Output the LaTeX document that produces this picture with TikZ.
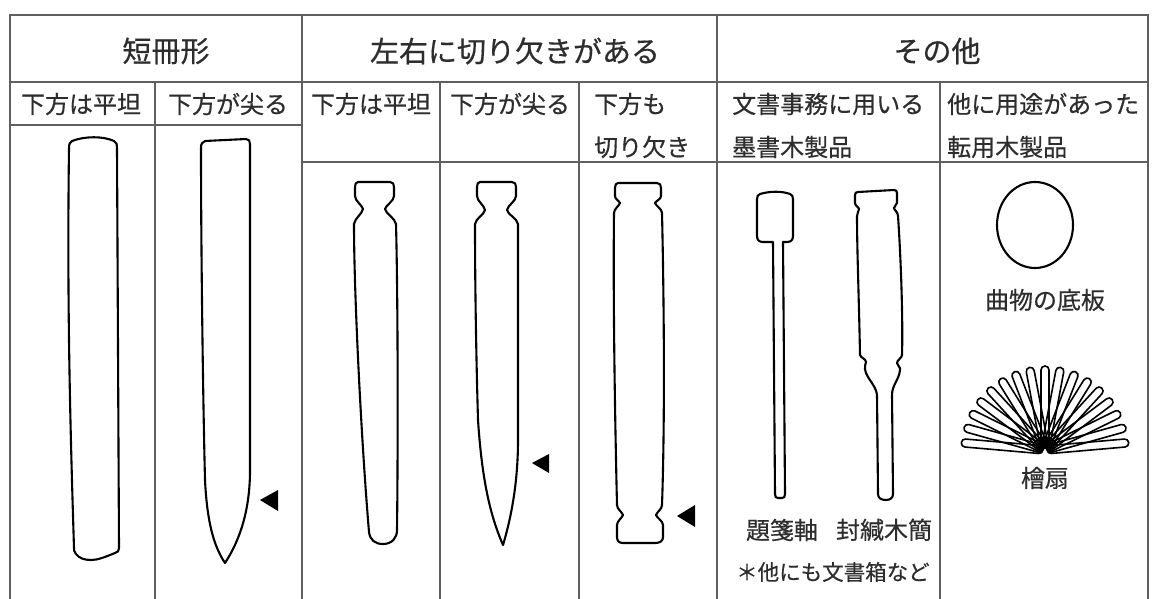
\documentclass[tikz,border=0pt]{standalone}
\usepackage{fontspec}
\setmainfont{Noto Sans CJK JP}[FakeBold=0.45]
\definecolor{rule}{RGB}{95,95,95}
\definecolor{ink}{RGB}{45,45,45}
\tikzset{
  grid/.style={draw=rule, line width=1.8pt},
  outline/.style={draw=black, line width=2.1pt, line join=round},
  slat/.style={draw=black, line width=1.6pt, rounded corners=3.9pt},
  marker/.style={fill=black, draw=none},
  head/.style={text=ink, font=\fontsize{29}{32}\selectfont, inner sep=0pt},
  sub/.style={text=ink, font=\fontsize{24}{28}\selectfont, inner sep=0pt},
}
\begin{document}
\begin{tikzpicture}[x=1pt, y=-1pt]
\useasboundingbox (0,0) rectangle (1153,599);
\fill[white] (0,0) rectangle (1153,599);

% table rules
\draw[grid] (10,599) -- (10,15) -- (1148,15) -- (1148,599);
\draw[grid] (10,82) -- (1148,82);
\draw[grid] (10,125) -- (302,125);
\draw[grid] (302,162) -- (1148,162);
\draw[grid] (302,15) -- (302,599);
\draw[grid] (717,15) -- (717,599);
\foreach \x in {155,440,579,940} \draw[grid] (\x,82) -- (\x,599);

% column headings
\node[head] (h1) at (166,51) {短冊形};
\node[head] (h2) at (515,51) {左右に切り欠きがある};
\node[head] (h3) at (937,51) {その他};

\node[sub] (s1) at (81,104) {下方は平坦};
\node[sub] (s2) at (228,104) {下方が尖る};
\node[sub] (s3) at (371,104) {下方は平坦};
\node[sub] (s4) at (510,104) {下方が尖る};
\node[sub, anchor=west] (s5a) at (594,104) {下方も};
\node[sub, anchor=west] (s5b) at (594,147) {切り欠き};
\node[sub, anchor=west] (s6a) at (732,104) {文書事務に用いる};
\node[sub, anchor=west] (s6b) at (732,147) {墨書木製品};
\node[sub, anchor=west] (s7a) at (947,104) {他に用途があった};
\node[sub, anchor=west] (s7b) at (947,147) {転用木製品};

% strip with flat lower end
\draw[outline] (72,141) .. controls (85,136) and (103,136) .. (114,141)
  .. controls (117,142) and (117,145) .. (117,148)
  -- (119,548) .. controls (119,551) and (118,552) .. (115,553)
  .. controls (105,557) and (98,560) .. (91,560) .. controls (84,560) and (79,558) .. (76,554)
  .. controls (74,552) and (74,550) .. (74,548)
  .. controls (70,420) and (67,300) .. (69,148) .. controls (69,144) and (70,142) .. (72,141) -- cycle;

% strip with pointed lower end
\draw[outline] (205,141) -- (246,139) .. controls (249,139) and (250,141) .. (250,144)
  -- (250,470) .. controls (250,510) and (240,540) .. (225,563)
  .. controls (213,545) and (207,520) .. (205,480)
  .. controls (203,400) and (201,250) .. (201,148) .. controls (201,144) and (202,142) .. (205,141) -- cycle;
\fill[marker] (260,500) -- (278,490) -- (278,511) -- cycle;

% notched top, flat lower end
\draw[outline] (358,182) -- (390,182) .. controls (393,182) and (394,184) .. (394,187) -- (394,196)
  .. controls (394,201) and (386,205) .. (385,209) .. controls (386,214) and (395,218) .. (396,224)
  .. controls (398,300) and (398,450) .. (397,530) .. controls (397,538) and (392,544) .. (383,544)
  .. controls (375,544) and (370,540) .. (369,532) .. controls (362,450) and (354,300) .. (354,224)
  .. controls (355,218) and (362,214) .. (363,209) .. controls (362,205) and (355,201) .. (355,196)
  -- (355,187) .. controls (355,184) and (356,182) .. (358,182) -- cycle;

% notched top, pointed lower end
\draw[outline] (480,182) -- (512,182) .. controls (515,182) and (516,184) .. (516,187) -- (516,196)
  .. controls (516,201) and (508,205) .. (507,210) .. controls (508,215) and (517,218) .. (518,224)
  -- (518,440) .. controls (518,480) and (512,515) .. (503,545)
  .. controls (490,515) and (482,480) .. (478,420) .. controls (476,350) and (475,280) .. (475,224)
  .. controls (476,218) and (484,215) .. (485,210) .. controls (484,205) and (477,201) .. (477,196)
  -- (477,187) .. controls (477,184) and (478,182) .. (480,182) -- cycle;
\fill[marker] (532,463) -- (549,454) -- (549,473) -- cycle;

% notched at both ends
\draw[outline] (618,183) -- (657,183) .. controls (660,183) and (661,185) .. (661,188) -- (661,196)
  .. controls (661,199) and (656,201) .. (655,203) .. controls (656,206) and (662,209) .. (662,213)
  .. controls (664,300) and (665,420) .. (662,505) .. controls (662,509) and (657,512) .. (656,515)
  .. controls (657,518) and (663,521) .. (663,525) -- (663,537) .. controls (663,541) and (660,543) .. (655,543)
  -- (623,543) .. controls (619,543) and (617,541) .. (617,537) -- (617,525)
  .. controls (617,521) and (622,518) .. (623,515) .. controls (622,512) and (617,509) .. (617,505)
  .. controls (615,420) and (613,300) .. (614,213) .. controls (614,209) and (619,206) .. (620,203)
  .. controls (619,201) and (615,199) .. (615,196) -- (615,188) .. controls (615,185) and (616,183) .. (618,183) -- cycle;
\fill[marker] (677,516) -- (695,505) -- (695,527) -- cycle;

% title-label shaft
\draw[outline] (760,194) .. controls (770,191) and (782,191) .. (790,194) .. controls (792,195) and (793,196) .. (793,199)
  -- (793,236) .. controls (793,240) and (791,242) .. (787,242) -- (783,242)
  -- (785,494) .. controls (785,497) and (784,498) .. (782,498) -- (778,498)
  .. controls (776,498) and (775,497) .. (775,494) -- (773,242) -- (763,242)
  .. controls (759,242) and (757,240) .. (757,236) -- (757,199) .. controls (757,196) and (758,195) .. (760,194) -- cycle;

% sealing tablet
\draw[outline] (858,192) -- (894,190) .. controls (896,190) and (897,191) .. (897,193) -- (897,203)
  .. controls (897,205) and (894,206) .. (894,208) .. controls (894,210) and (898,212) .. (898,216)
  .. controls (901,260) and (903,320) .. (902,355) .. controls (902,358) and (897,360) .. (897,363)
  .. controls (897,366) and (901,367) .. (900,370) .. controls (899,380) and (892,385) .. (892,395)
  -- (893,494) .. controls (893,498) and (890,500) .. (886,500) .. controls (881,500) and (878,498) .. (878,494)
  -- (877,395) .. controls (876,385) and (866,378) .. (865,369) .. controls (864,366) and (866,365) .. (866,362)
  .. controls (866,359) and (861,358) .. (860,355) .. controls (859,300) and (857,250) .. (857,216)
  .. controls (857,213) and (859,211) .. (859,209) .. controls (859,207) and (855,206) .. (855,203)
  -- (855,195) .. controls (855,193) and (856,192) .. (858,192) -- cycle;

\node[sub] (l1) at (782,530) {題箋軸};
\node[sub] (l2) at (884,530) {封緘木簡};
\node[sub, font=\fontsize{21.5}{24}\selectfont, anchor=west] (l3) at (736,572) {＊他にも文書箱など};

% round bottom board
\draw[outline] (1035,225) ellipse [x radius=38, y radius=43];
\node[sub] (l4) at (1045,300) {曲物の底板};

% folding fan
\coordinate (fp) at (1045,450);
\foreach \k in {0,...,16}{
  \begin{scope}[shift={(fp)}, rotate={5+\k*10.625}]
    \draw[slat] (2,-4) rectangle (84,4);
  \end{scope}
}
\node[sub] (l5) at (1045,478) {檜扇};
\end{tikzpicture}
\end{document}
